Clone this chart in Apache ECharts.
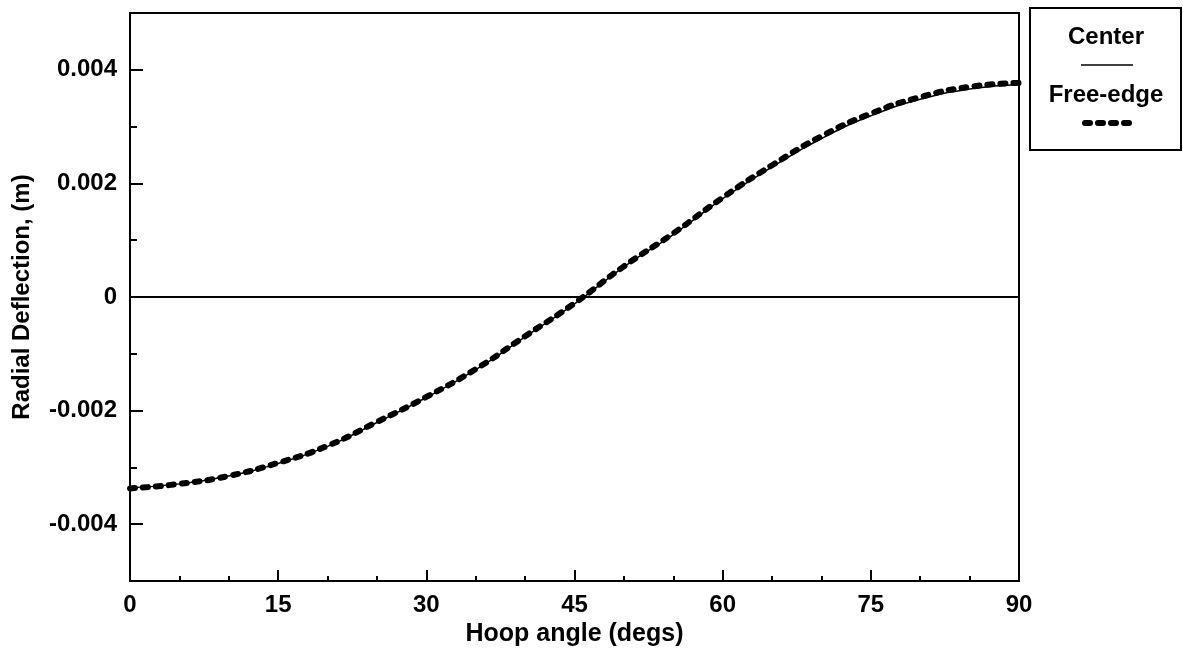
<!DOCTYPE html>
<html>
<head>
<meta charset="utf-8">
<script src="https://cdn.jsdelivr.net/npm/echarts@6/dist/echarts.min.js"></script>
<style>html,body{margin:0;padding:0;background:#fff}#c{width:1183px;height:653px}</style>
</head>
<body>
<div id="c"></div>
<script>
const angles = [0,5,10,15,20,25,30,35,40,45,50,55,60,65,70,75,80,85,90];
const centerVals = [-0.00336,-0.00329,-0.00315,-0.00293,-0.00263,-0.00221,-0.00177,-0.00128,-0.00070,-0.00012,0.00053,0.00110,0.00173,0.00229,0.00279,0.00319,0.00348,0.00366,0.00374];
const freeEdgeVals = [-0.00337,-0.00329,-0.00315,-0.00292,-0.00262,-0.00220,-0.00176,-0.00127,-0.00069,-0.00011,0.00054,0.00112,0.00175,0.00232,0.00283,0.00323,0.00352,0.00370,0.00377];
const seriesNames = ['Center','Free-edge'];
const yMajorTicks = [-0.004,-0.002,0,0.002,0.004];
const yTickLabels = ['-0.004','-0.002','0','0.002','0.004'];
const yMinorTicks = [-0.005,-0.003,-0.001,0.001,0.003,0.005];
const xTitle = 'Hoop angle (degs)';
const yTitle = 'Radial Deflection, (m)';

const FONT = 'Liberation Sans, Arial, sans-serif';
const FS = 24;
const chart = echarts.init(document.getElementById('c'), null, {renderer:'canvas'});
const pair = vals => angles.map((a,i)=>[a, vals[i]]);

chart.setOption({
  animation:false,
  backgroundColor:'#fff',
  grid:{left:130,right:164,top:13,bottom:72,show:true,borderColor:'#000',borderWidth:2,backgroundColor:'transparent'},
  xAxis:{
    type:'value',min:0,max:90,interval:15,
    name:xTitle,nameLocation:'middle',nameGap:32,
    nameTextStyle:{fontFamily:FONT,fontWeight:'bold',fontSize:25,color:'#000'},
    axisLine:{onZero:false,lineStyle:{color:'#000',width:2}},
    axisTick:{inside:true,length:11,lineStyle:{color:'#000',width:2}},
    minorTick:{show:true,splitNumber:3,length:5,lineStyle:{color:'#000',width:2}},
    axisLabel:{fontFamily:FONT,fontWeight:'bold',fontSize:FS,color:'#000',margin:12},
    splitLine:{show:false}
  },
  yAxis:[{
    type:'value',min:-0.005,max:0.005,interval:0.001,position:'left',
    name:yTitle,nameLocation:'middle',nameGap:96,
    nameTextStyle:{fontFamily:FONT,fontWeight:'bold',fontSize:FS,color:'#000'},
    axisLine:{show:true,onZero:false,lineStyle:{color:'#000',width:2}},
    axisTick:{show:true,inside:true,length:13,customValues:yMajorTicks,lineStyle:{color:'#000',width:2}},
    axisLabel:{fontFamily:FONT,fontWeight:'bold',fontSize:FS,color:'#000',margin:13,customValues:yMajorTicks,
      formatter:v=>{const i=yMajorTicks.findIndex(t=>Math.abs(t-v)<1e-9);return i>=0?yTickLabels[i]:'';}},
    splitLine:{show:false}
  },{
    type:'value',min:-0.005,max:0.005,interval:0.001,position:'left',
    axisLine:{show:false,onZero:false},
    axisTick:{show:true,inside:true,length:7,customValues:yMinorTicks,lineStyle:{color:'#000',width:2}},
    axisLabel:{show:false},
    splitLine:{show:false}
  }],
  series:[{
    name:seriesNames[1],type:'line',data:pair(freeEdgeVals),smooth:true,showSymbol:false,
    lineStyle:{color:'#000',width:6,type:[5,8],cap:'round'},z:2
  },{
    name:seriesNames[0],type:'line',data:pair(centerVals),smooth:true,showSymbol:false,
    lineStyle:{color:'#000',width:1.5},z:3,
    markLine:{silent:true,symbol:'none',label:{show:false},lineStyle:{color:'#000',width:2,type:'solid'},data:[{yAxis:0}]}
  }],
  graphic:[
    {type:'rect',shape:{x:1030,y:8,width:151,height:142},style:{fill:'#fff',stroke:'#000',lineWidth:2}},
    {type:'text',x:1106,y:37,style:{text:seriesNames[0],font:'bold 24px '+FONT,fill:'#000',textAlign:'center',textVerticalAlign:'middle'}},
    {type:'line',shape:{x1:1081,y1:65,x2:1133,y2:65},style:{stroke:'#000',lineWidth:1.5}},
    {type:'text',x:1106,y:95,style:{text:seriesNames[1],font:'bold 24px '+FONT,fill:'#000',textAlign:'center',textVerticalAlign:'middle'}},
    {type:'line',shape:{x1:1085,y1:123,x2:1130,y2:123},style:{stroke:'#000',lineWidth:6,lineDash:[5,8],lineCap:'round'}}
  ]
});
</script>
</body>
</html>
